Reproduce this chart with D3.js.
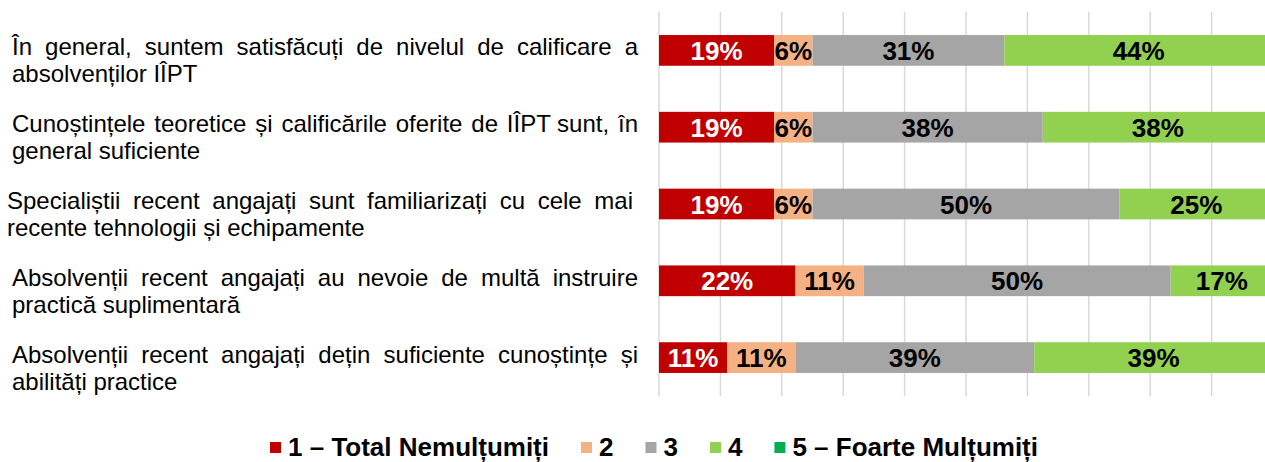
<!DOCTYPE html>
<html>
<head>
<meta charset="utf-8">
<script src="https://cdn.jsdelivr.net/npm/d3@7"></script>
<style>
  body { margin: 0; background: #fff; }
  text { font-family: "Liberation Sans", Arial, sans-serif; }
</style>
</head>
<body>
<svg width="1265" height="462"></svg>
<script>
// Chart data
const categories = [
  "În general, suntem satisfăcuți de nivelul de calificare a\nabsolvenților IÎPT",
  "Cunoștințele teoretice și calificările oferite de IÎPT sunt, în\ngeneral suficiente",
  "Specialiștii recent angajați sunt familiarizați cu cele mai\nrecente tehnologii și echipamente",
  "Absolvenții recent angajați au nevoie de multă instruire\npractică suplimentară",
  "Absolvenții recent angajați dețin suficiente cunoștințe și\nabilități practice"
];
const seriesNames = ["1 – Total Nemulțumiți", "2", "3", "4", "5 – Foarte Mulțumiți"];
const seriesColors = ["#C00000", "#F4B183", "#A5A5A5", "#92D050", "#00B050"];
const s1 = [18.75, 18.75, 18.75, 22.22, 11.11];
const s2 = [6.25, 6.25, 6.25, 11.11, 11.11];
const s3 = [31.25, 37.5, 50, 50, 38.89];
const s4 = [43.75, 37.5, 25, 16.67, 38.89];
const s5 = [0, 0, 0, 0, 0];
const gridTicks = [0, 10, 20, 30, 40, 50, 60, 70, 80, 90, 100];

const svg = d3.select("svg");

const rows = categories.map((c, i) => ({ cat: c, vals: [s1[i], s2[i], s3[i], s4[i], s5[i]] }));

const x = d3.scaleLinear().domain([0, 100]).range([659, 1273]);
const y = d3.scaleBand().domain(categories).range([12, 396])
  .paddingInner(0.6).paddingOuter(0.3);

// gridlines
svg.append("g").selectAll("line")
  .data(gridTicks)
  .enter().append("line")
  .attr("x1", d => x(d)).attr("x2", d => x(d))
  .attr("y1", 12).attr("y2", 396)
  .attr("stroke", "#d9d9d9")
  .attr("stroke-width", 1.5);

// stacked segments
const stack = d3.stack().keys([0, 1, 2, 3, 4]).value((d, k) => d.vals[k]);
const layers = stack(rows);

const layer = svg.selectAll(".layer")
  .data(layers)
  .enter().append("g")
  .attr("class", "layer")
  .attr("fill", d => seriesColors[d.key]);

layer.selectAll("rect")
  .data(d => d.filter(p => p[1] > p[0]))
  .enter().append("rect")
  .attr("x", d => x(d[0]))
  .attr("y", d => y(d.data.cat))
  .attr("width", d => x(d[1]) - x(d[0]))
  .attr("height", y.bandwidth());

layer.selectAll("text")
  .data(d => d.filter(p => p[1] > p[0]).map(p => Object.assign(p, { key: d.key })))
  .enter().append("text")
  .attr("x", d => (x(d[0]) + x(d[1])) / 2)
  .attr("y", d => y(d.data.cat) + y.bandwidth() / 2 + 9.5)
  .attr("text-anchor", "middle")
  .attr("font-size", 26)
  .attr("font-weight", "bold")
  .attr("fill", d => d.key === 0 ? "#fff" : "#000")
  .text(d => Math.round(d[1] - d[0]) + "%");

// category labels, justified like the original
const labelLeft = 12, labelRight = 638;
const labelSize = 24;

function justifyLine(g, line, yPos, stretch, shift) {
  const words = line.split(" ");
  const t = g.append("text")
    .attr("y", yPos)
    .attr("font-size", labelSize)
    .attr("fill", "#000");
  const spans = words.map(w => t.append("tspan").text(w));
  const widths = spans.map(s => s.node().getComputedTextLength());
  const total = d3.sum(widths);
  const spaceW = labelSize * 0.278;
  const gap = stretch && words.length > 1 ? (labelRight - labelLeft - total) / (words.length - 1) : spaceW;
  let cx = labelLeft + shift;
  spans.forEach((s, i) => {
    s.attr("x", cx);
    cx += widths[i] + gap;
  });
}

const labels = svg.append("g");
categories.forEach((c, ci) => {
  const lines = c.split("\n");
  const c0 = y(c) + y.bandwidth() / 2;
  // the third label sits a little to the left in the original
  const shift = ci === 2 ? -5 : 0;
  lines.forEach((ln, i) => {
    justifyLine(labels, ln, c0 + 5 + i * 27, i < lines.length - 1, shift);
  });
});

// legend
const legend = svg.append("g");
let lx = 0;
seriesNames.forEach((name, i) => {
  const g = legend.append("g");
  g.append("rect")
    .attr("x", lx).attr("y", 442)
    .attr("width", 11).attr("height", 11)
    .attr("fill", seriesColors[i]);
  const t = g.append("text")
    .attr("x", lx + 18).attr("y", 456)
    .attr("font-size", 26)
    .attr("font-weight", "bold")
    .attr("fill", "#000")
    .text(name);
  lx += 18 + t.node().getComputedTextLength() + 32;
});
const legendW = lx - 32;
legend.attr("transform", `translate(${654 - legendW / 2},0)`);
</script>
</body>
</html>
